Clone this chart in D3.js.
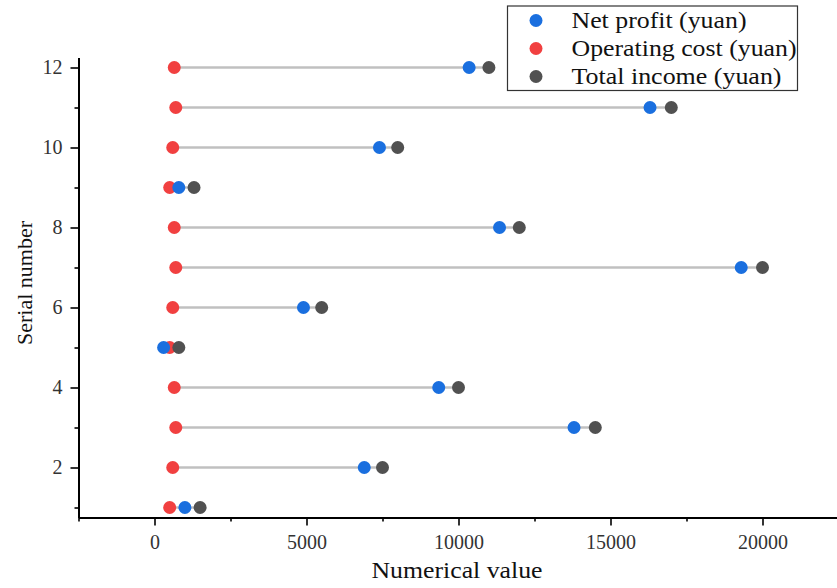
<!DOCTYPE html>
<html><head><meta charset="utf-8">
<script src="https://cdn.jsdelivr.net/npm/d3@7"></script>
<style>body{margin:0;background:#fff}svg{display:block}</style>
</head><body>
<svg id="c" width="837" height="588"></svg>
<script>
const serial = [1,2,3,4,5,6,7,8,9,10,11,12];
const netProfit = [1000,6900,13800,9350,300,4900,19300,11350,800,7400,16300,10350];
const operatingCost = [500,600,700,650,500,600,700,650,500,600,700,650];
const totalIncome = [1500,7500,14500,10000,800,5500,20000,12000,1300,8000,17000,11000];
const seriesNames = ["Net profit (yuan)","Operating cost (yuan)","Total income (yuan)"];
const seriesColors = ["#1a6fdf","#f14040","#515151"];
const xTicks = [0,5000,10000,15000,20000];
const xMinor = [-2500,2500,7500,12500,17500,22500];
const yTicks = [2,4,6,8,10,12];
const yMinor = [1,3,5,7,9,11];

const svg = d3.select("#c");
const font = "'Liberation Serif','Times New Roman',serif";
const x = d3.scaleLinear().domain([-2500,22500]).range([78.5,838.5]);
const y = d3.scaleLinear().domain([0.75,12.25]).range([517.5,57.5]);

// connecting lines
svg.append("g").selectAll("line").data(serial).join("line")
  .attr("x1",(d,i)=>x(operatingCost[i])).attr("x2",(d,i)=>x(totalIncome[i]))
  .attr("y1",d=>y(d)).attr("y2",d=>y(d))
  .attr("stroke","#c0c0c0").attr("stroke-width",2.5);

const r = 6.5;
function dots(vals,color){
  svg.append("g").selectAll("circle").data(serial).join("circle")
    .attr("cx",(d,i)=>x(vals[i])).attr("cy",d=>y(d)).attr("r",r).attr("fill",color);
}
dots(operatingCost,seriesColors[1]);
dots(netProfit,seriesColors[0]);
dots(totalIncome,seriesColors[2]);

// axes
const xAxis = svg.append("g").attr("transform","translate(0,517.5)")
  .call(d3.axisBottom(x).tickValues(xTicks).tickSize(8).tickSizeOuter(0).tickFormat(d3.format("d")));
svg.append("g").attr("transform","translate(0,517.5)")
  .call(d3.axisBottom(x).tickValues(xMinor).tickSize(4).tickSizeOuter(0).tickFormat(""))
  .select(".domain").remove();
const yAxis = svg.append("g").attr("transform","translate(78.5,0)")
  .call(d3.axisLeft(y).tickValues(yTicks).tickSize(8).tickSizeOuter(0));
svg.append("g").attr("transform","translate(78.5,0)")
  .call(d3.axisLeft(y).tickValues(yMinor).tickSize(4).tickSizeOuter(0).tickFormat(""))
  .select(".domain").remove();
svg.selectAll(".domain").attr("stroke","#000").attr("stroke-width",2);
svg.selectAll(".tick line").attr("stroke","#000").attr("stroke-width",1.6);
svg.selectAll(".tick text").attr("font-family",font).attr("font-size",20).attr("fill","#333");
xAxis.selectAll(".tick text").attr("dy","0.71em").attr("y",17.5);
yAxis.selectAll(".tick text").attr("x",-16);

svg.append("text").attr("x",457).attr("y",578).attr("text-anchor","middle")
  .attr("font-family",font).attr("font-size",23).attr("fill","#111")
  .attr("textLength",171).attr("lengthAdjust","spacingAndGlyphs").text("Numerical value");
svg.append("text").attr("transform","translate(32,283) rotate(-90)").attr("text-anchor","middle")
  .attr("font-family",font).attr("font-size",22).attr("fill","#111").text("Serial number");

// legend
const legendWidths = [175,225,210];
const lg = svg.append("g");
lg.append("rect").attr("x",507.5).attr("y",6).attr("width",290).attr("height",84.5)
  .attr("fill","#fff").attr("stroke","#333").attr("stroke-width",1.2);
seriesNames.forEach((n,i)=>{
  const yy = 20.5 + i*28;
  lg.append("circle").attr("cx",536).attr("cy",yy).attr("r",6.5).attr("fill",seriesColors[i]);
  lg.append("text").attr("x",571.5).attr("y",yy + 7.5)
    .attr("font-family",font).attr("font-size",24).attr("fill","#111")
    .attr("textLength",legendWidths[i]).attr("lengthAdjust","spacingAndGlyphs").text(n);
});
</script>
</body></html>
